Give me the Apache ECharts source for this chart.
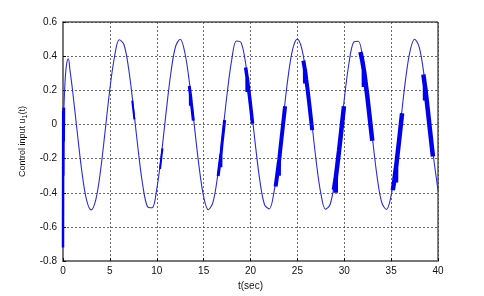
<!DOCTYPE html>
<html>
<head>
<meta charset="utf-8">
<script src="https://cdn.jsdelivr.net/npm/echarts@6/dist/echarts.min.js"></script>
<style>
  html, body { margin: 0; padding: 0; background: #fff; }
  #chart { width: 484px; height: 296px; }
</style>
</head>
<body>
<div id="chart"></div>
<script>
// main trace
const tMain = [0.1, 0.25, 0.4, 0.57, 0.75, 1.0, 1.5, 2.0, 2.5, 3.0, 3.5, 4.0, 4.5, 5.0, 5.5, 6.0, 6.5, 7.0, 7.5, 8.0,
  8.5, 9.0, 9.5, 10.0, 10.5, 11.0, 11.5, 12.0, 12.5, 13.0, 13.5, 14.0, 14.5, 15.0, 15.5, 16.0, 16.5, 17.0, 17.5, 18.0,
  18.5, 19.0, 19.5, 20.0, 20.5, 21.0, 21.5, 22.0, 22.5, 23.0, 23.5, 24.0, 24.5, 25.0, 25.5, 26.0, 26.5, 27.0, 27.5, 28.0,
  28.5, 29.0, 29.5, 30.0, 30.5, 31.0, 31.5, 32.0, 32.5, 33.0, 33.5, 34.0, 34.5, 35.0, 35.5, 36.0, 36.5, 37.0, 37.5, 38.0,
  38.5, 39.0, 39.5, 40.0];
const uMain = [0.10, 0.28, 0.36, 0.385, 0.315, 0.209, -0.035, -0.270, -0.439, -0.500, -0.440, -0.272, -0.036, 0.208, 0.398, 0.496, 0.468, 0.327, 0.106, -0.141,
  -0.353, -0.480, -0.488, -0.378, -0.174, 0.072, 0.300, 0.455, 0.499, 0.420, 0.239, -0.002, -0.241, -0.422, -0.499, -0.455, -0.298, -0.069, 0.177, 0.380,
  0.489, 0.479, 0.351, 0.138, -0.109, -0.330, -0.470, -0.494, -0.398, -0.205, 0.039, 0.274, 0.441, 0.500, 0.437, 0.267, 0.031, -0.212, -0.403, -0.496,
  -0.467, -0.325, -0.102, 0.146, 0.357, 0.481, 0.487, 0.374, 0.169, -0.077, -0.304, -0.457, -0.498, -0.417, -0.233, 0.006, 0.245, 0.425, 0.499, 0.452,
  0.294, 0.064, -0.182, -0.383];

// chattering bursts as [t, u] pairs
const band0 = [[0, -0.72], [0.02, 0.08], [0.04, -0.30], [0.06, 0.10], [0.08, -0.10], [0.1, 0.10]];
const band1 = [[7.39, 0.14], [7.46, 0.105], [7.54, 0.067], [7.61, 0.03]];
const band2 = [[10.35, -0.26], [10.44, -0.22], [10.52, -0.18], [10.61, -0.14]];
const band3 = [[13.47, 0.225], [13.58, 0.177], [13.59, 0.11], [13.60, 0.175], [13.69, 0.126], [13.79, 0.078], [13.90, 0.023]];
const band4 = [[16.55, -0.302], [16.69, -0.24], [16.83, -0.177], [16.84, -0.25], [16.85, -0.18], [16.96, -0.114], [17.10, -0.044], [17.24, 0.026]];
const band5 = [[19.48, 0.334], [19.63, 0.278], [19.64, 0.19], [19.65, 0.275], [19.78, 0.215], [19.92, 0.152], [20.07, 0.08], [20.22, 0.005]];
const band6 = [[22.68, -0.363], [22.85, -0.295], [23.02, -0.221], [23.03, -0.30], [23.04, -0.22], [23.18, -0.145], [23.35, -0.061], [23.52, 0.023], [23.69, 0.107]];
const band7 = [[25.64, 0.374], [25.80, 0.321], [25.81, 0.24], [25.82, 0.32], [25.95, 0.263], [26.11, 0.194], [26.27, 0.12], [26.42, 0.047], [26.58, -0.033]];
const band8 = [[28.90, -0.383], [29.08, -0.317], [29.09, -0.40], [29.10, -0.31], [29.26, -0.239], [29.44, -0.156], [29.61, -0.073], [29.79, 0.017], [29.97, 0.106]];
const band9 = [[31.73, 0.424], [31.91, 0.378], [32.09, 0.318], [32.10, 0.22], [32.11, 0.315], [32.27, 0.247], [32.45, 0.169], [32.63, 0.082], [32.81, -0.007], [32.99, -0.096]];
const band10 = [[35.18, -0.384], [35.345, -0.324], [35.51, -0.253], [35.52, -0.34], [35.53, -0.25], [35.675, -0.179], [35.84, -0.099], [36.005, -0.017], [36.17, 0.065]];
const band11 = [[38.44, 0.293], [38.61, 0.223], [38.62, 0.14], [38.63, 0.22], [38.78, 0.147], [38.95, 0.064], [39.12, -0.02], [39.29, -0.105], [39.46, -0.187]];
const bands = [band0, band1, band2, band3, band4, band5, band6, band7, band8, band9, band10, band11];
const bandWidths = [2.5, 2, 2, 3, 3, 3.5, 4, 4, 4.5, 4.5, 4.5, 4.5];

const chart = echarts.init(document.getElementById("chart"));

const font = "Liberation Sans, Arial, sans-serif";
const gridLine = { show: true, lineStyle: { color: "#444", width: 0.8, type: [2, 2] } };

const series = [
  {
    type: "line",
    data: tMain.map((t, i) => [t, uMain[i]]),
    smooth: 0.35,
    showSymbol: false,
    lineStyle: { color: "#2b2bd8", width: 1.1 },
    z: 3,
  },
];
bands.forEach((b, i) => {
  series.push({
    type: "line",
    data: b,
    showSymbol: false,
    lineStyle: { color: "#0000ee", width: bandWidths[i] },
    z: 4,
  });
});

chart.setOption({
  backgroundColor: "#fff",
  animation: false,
  grid: {
    left: 63,
    right: 46,
    top: 22,
    bottom: 33,
    show: true,
    borderColor: "#000",
    borderWidth: 1,
  },
  xAxis: {
    type: "value",
    min: 0,
    max: 40,
    interval: 5,
    name: "t(sec)",
    nameLocation: "middle",
    nameGap: 18,
    nameTextStyle: { fontFamily: font, fontSize: 10, color: "#111" },
    axisLine: { show: true, onZero: false, lineStyle: { color: "#777", width: 2 } },
    axisTick: { show: true, inside: true, length: 3, lineStyle: { color: "#000" } },
    axisLabel: { fontFamily: font, fontSize: 10, color: "#111", margin: 5 },
    splitLine: gridLine,
  },
  yAxis: {
    type: "value",
    min: -0.8,
    max: 0.6,
    interval: 0.2,
    name: "{a|Control input u}{s|1}{a|(t)}",
    nameLocation: "middle",
    nameGap: 34,
    nameTextStyle: {
      fontFamily: font,
      fontSize: 9,
      color: "#111",
      rich: {
        a: { fontFamily: font, fontSize: 9, color: "#111" },
        s: { fontFamily: font, fontSize: 7, color: "#111", padding: [5, 0, 0, 0] },
      },
    },
    axisLine: { show: true, lineStyle: { color: "#777", width: 2 } },
    axisTick: { show: true, inside: true, length: 3, lineStyle: { color: "#000" } },
    axisLabel: {
      fontFamily: font,
      fontSize: 10,
      color: "#111",
      margin: 6,
      formatter: (v) => (Math.abs(v) < 1e-9 ? "0" : v.toFixed(1)),
    },
    splitLine: gridLine,
  },
  series: series,
});
</script>
</body>
</html>
